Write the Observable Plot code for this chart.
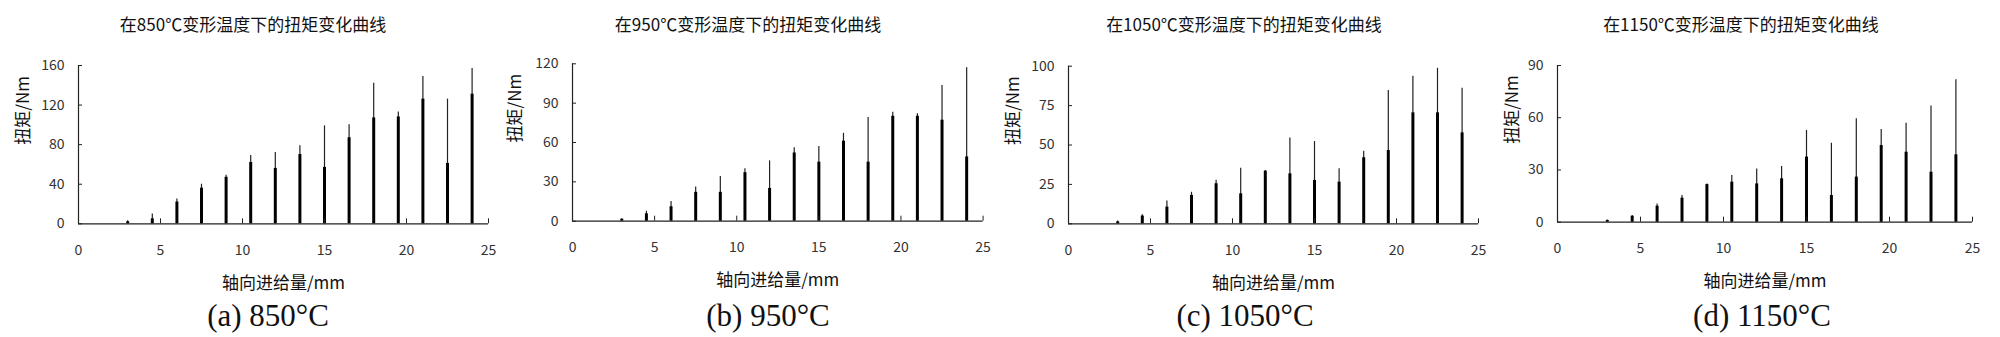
<!DOCTYPE html>
<html><head><meta charset="utf-8">
<script src="https://cdn.jsdelivr.net/npm/d3@7"></script>
<script src="https://cdn.jsdelivr.net/npm/@observablehq/plot@0.6"></script>
<style>
html,body{margin:0;padding:0;background:#fff;}
#root{position:relative;width:2000px;height:337px;overflow:hidden;font-family:"Noto Sans CJK SC",sans-serif;}
.title{position:absolute;font-size:17px;white-space:nowrap;transform:translate(-50%,-50%);color:#111;line-height:1;}
.caption{position:absolute;font-family:"Liberation Serif",serif;font-size:31px;white-space:nowrap;transform:translate(-50%,-50%);color:#111;line-height:1;}
.panel{position:absolute;top:40px;}
.panel svg{overflow:visible;}
</style></head><body><div id="root"></div>
<script>
// ---- data ----
const feed = [3, 4.5, 6, 7.5, 9, 10.5, 12, 13.5, 15, 16.5, 18, 19.5, 21, 22.5, 24];

const peak850 = [3, 10, 25, 40, 49, 69, 72, 79, 99, 100, 142, 113, 149, 126, 157];
const body850 = [2, 5, 22, 36, 47, 62, 56, 70, 57, 87, 107, 108, 126, 61, 131];

const peak950 = [1.8, 7.6, 15, 26, 34, 40, 46, 56, 57, 67, 79, 83, 82, 103.5, 117];
const body950 = [1.5, 5.6, 11, 22, 22, 37, 25, 52, 45, 61, 45, 80, 80, 77, 49];

const peak1050 = [1.7, 5.7, 14.4, 20, 27.7, 35.3, 33.8, 54.5, 52.2, 34.9, 46, 84.6, 93.7, 98.7, 86];
const body1050 = [1.2, 4.9, 10.6, 18, 25.4, 19, 33.4, 31.7, 27.5, 26.4, 41.9, 46.5, 70.4, 70.4, 57.7];

const peak1150 = [1.3, 3.8, 10.5, 15.3, 22, 26.8, 30.6, 32, 52.7, 45.4, 59.4, 53.3, 56.9, 66.7, 81.8];
const body1150 = [1, 3.4, 9.2, 13.8, 21.6, 23, 22, 24.9, 37.4, 15.3, 25.9, 44, 40.2, 28.7, 38.7];

const xTicks = [0, 5, 10, 15, 20, 25];
const yTicks850 = [0, 40, 80, 120, 160];
const yTicks950 = [0, 30, 60, 90, 120];
const yTicks1050 = [0, 25, 50, 75, 100];
const yTicks1150 = [0, 30, 60, 90];

const titles = ["在850℃变形温度下的扭矩变化曲线", "在950℃变形温度下的扭矩变化曲线", "在1050℃变形温度下的扭矩变化曲线", "在1150℃变形温度下的扭矩变化曲线"];
const captions = ["(a) 850°C", "(b) 950°C", "(c) 1050°C", "(d) 1150°C"];
const xLabel = "轴向进给量/mm";
const yLabel = "扭矩/Nm";

// ---- layout ----
const layout = [
  {x0: 77.7, x1: 487.7, yTop: 65, y0: 223.3, titleX: 253, capX: 268, yLabelDx: -55},
  {x0: 571.7, x1: 982.3, yTop: 63.3, y0: 220.7, titleX: 748, capX: 768, yLabelDx: -57},
  {x0: 1068.3, x1: 1478.3, yTop: 65.7, y0: 223.3, titleX: 1244, capX: 1245, yLabelDx: -55},
  {x0: 1557.3, x1: 1972.3, yTop: 65, y0: 221.7, titleX: 1741, capX: 1762, yLabelDx: -45}
];
const series = [
  {peak: peak850, body: body850, yTicks: yTicks850},
  {peak: peak950, body: body950, yTicks: yTicks950},
  {peak: peak1050, body: body1050, yTicks: yTicks1050},
  {peak: peak1150, body: body1150, yTicks: yTicks1150}
];

const root = document.getElementById("root");
const SVG_TOP = 40, SVG_H = 260, ML = 70, MR = 20;

series.forEach((s, k) => {
  const L = layout[k];
  const rows = feed.map((f, i) => ({feed: f, peak: s.peak[i], body: s.body[i]}));
  const yMax = s.yTicks[s.yTicks.length - 1];
  const chart = Plot.plot({
    width: (L.x1 - L.x0) + ML + MR,
    height: SVG_H,
    marginLeft: ML, marginRight: MR,
    marginTop: L.yTop - SVG_TOP,
    marginBottom: SVG_TOP + SVG_H - L.y0,
    style: {background: "transparent", fontFamily: "'Noto Sans CJK SC', sans-serif", color: "#222", overflow: "visible"},
    x: {domain: [0, 25]},
    y: {domain: [0, yMax]},
    marks: [
      Plot.ruleX(rows, {x: "feed", y1: 0, y2: "peak", stroke: "#222", strokeWidth: 1.2}),
      Plot.ruleX(rows, {x: "feed", y1: 0, y2: "body", stroke: "#000", strokeWidth: 3}),
      Plot.ruleY([0], {stroke: "#222", strokeWidth: 1.2}),
      Plot.ruleX([0], {stroke: "#222", strokeWidth: 1.2}),
      Plot.axisX(xTicks, {tickSize: -5, fill: "none", stroke: "#222", label: null}),
      Plot.axisY(s.yTicks, {tickSize: -4, fill: "none", stroke: "#222", label: null}),
      Plot.axisX(xTicks, {tickSize: 0, tickPadding: 21, fontSize: 14, fill: "#333", label: null}),
      Plot.axisY(s.yTicks, {tickSize: 0, tickPadding: 14, fontSize: 14, fill: "#333", label: null}),
      Plot.text([xLabel], {text: d => d, frameAnchor: "bottom", dy: 65, fontSize: 17, fill: "#111"}),
      Plot.text([yLabel], {text: d => d, frameAnchor: "left", rotate: -90, dx: L.yLabelDx, fontSize: 17, fill: "#111"})
    ]
  });
  const div = document.createElement("div");
  div.className = "panel";
  div.style.left = (L.x0 - ML) + "px";
  div.appendChild(chart);
  root.appendChild(div);

  const t = document.createElement("div");
  t.className = "title";
  t.style.left = L.titleX + "px";
  t.style.top = "23px";
  t.textContent = titles[k];
  root.appendChild(t);

  const c = document.createElement("div");
  c.className = "caption";
  c.style.left = L.capX + "px";
  c.style.top = "315px";
  c.textContent = captions[k];
  root.appendChild(c);
});
</script>
</body></html>
